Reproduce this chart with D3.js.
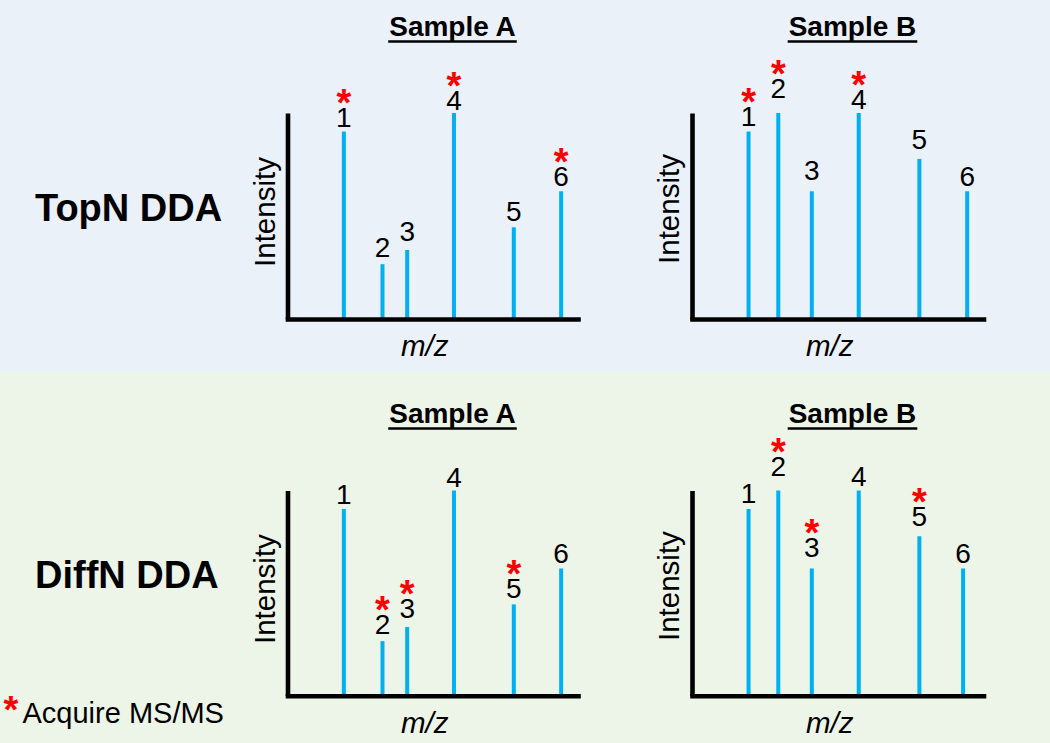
<!DOCTYPE html>
<html>
<head>
<meta charset="utf-8">
<script src="https://cdn.jsdelivr.net/npm/d3@7"></script>
<style>
  html, body { margin: 0; padding: 0; background: #ffffff; }
  svg { display: block; font-family: "Liberation Sans", Arial, sans-serif; }
</style>
</head>
<body>
<svg id="chart" width="1050" height="743"></svg>
<script>
// ---------------- data ----------------
const methods = ["TopN DDA", "DiffN DDA"];
const samples = ["Sample A", "Sample B"];
const peakLabels = ["1", "2", "3", "4", "5", "6"];

// m/z position of each peak (arbitrary units, 0-100 along the axis)
const mzSampleA = [19.4, 32.7, 41.2, 57.3, 77.9, 94.2];
const mzSampleB = [19.4, 29.6, 41.1, 57.2, 78.0, 94.4];
const mzSampleBDiffN = [19.4, 29.6, 41.1, 57.2, 78.0, 93.0];

// relative intensity of each peak
const intensityA = [0.91, 0.266, 0.335, 1.0, 0.445, 0.62];
const intensityB = [0.91, 1.0, 0.62, 1.0, 0.777, 0.62];

// peaks selected for MS/MS (peak numbers)
const topNSelectedA = [1, 4, 6];
const topNSelectedB = [1, 2, 4];
const diffNSelectedA = [2, 3, 5];
const diffNSelectedB = [2, 3, 5];

const xAxisLabel = "m/z";
const yAxisLabel = "Intensity";
const legendText = "Acquire MS/MS";

// ---------------- layout ----------------
const svg = d3.select("#chart");
const W = 1050, H = 743;
const bandSplit = 372;
const rowGeom = [
  { top: 113, base: 319, title: 36 },
  { top: 490.5, base: 695.7, title: 423 }
];
const colGeom = [
  { x0: 287.5, x1: 578, titleX: 452.5, intensDy: -4 },
  { x0: 692, x1: 983.5, titleX: 852.5, intensDy: -7 }
];
// gap between number label baseline and peak top
const labelGap = [
  [5, 7, 9, 3.5, 6, 5],
  [5.5, 15, 11, 4.5, 10, 5]
];
const barColor = "#00b0f0";
const starColor = "#ff0000";

// backgrounds
svg.append("rect").attr("x", 0).attr("y", 0).attr("width", W).attr("height", bandSplit).attr("fill", "#eaf1f9");
svg.append("rect").attr("x", 0).attr("y", bandSplit).attr("width", W).attr("height", H - bandSplit).attr("fill", "#edf4e8");

// row labels
const rowLabelY = [221, 587.5];
methods.forEach((m, r) => {
  svg.append("text").attr("x", 35).attr("y", rowLabelY[r])
    .attr("font-size", 38).attr("font-weight", "bold").attr("fill", "#000").text(m);
});

const panels = [
  { r: 0, c: 0, mz: mzSampleA, val: intensityA, sel: topNSelectedA },
  { r: 0, c: 1, mz: mzSampleB, val: intensityB, sel: topNSelectedB },
  { r: 1, c: 0, mz: mzSampleA, val: intensityA, sel: diffNSelectedA },
  { r: 1, c: 1, mz: mzSampleBDiffN, val: intensityB, sel: diffNSelectedB }
];

panels.forEach(p => {
  const rg = rowGeom[p.r], cg = colGeom[p.c];
  const x = d3.scaleLinear().domain([0, 100]).range([cg.x0, cg.x1]);
  const y = d3.scaleLinear().domain([0, 1]).range([rg.base, rg.top]);
  const g = svg.append("g");

  // title with underline
  const t = g.append("text").attr("x", cg.titleX).attr("y", rg.title)
    .attr("text-anchor", "middle").attr("font-size", 28).attr("font-weight", "bold")
    .attr("fill", "#000").text(samples[p.c]);
  const tw = t.node().getComputedTextLength();
  g.append("line").attr("x1", cg.titleX - tw / 2 - 1).attr("x2", cg.titleX + tw / 2 + 1)
    .attr("y1", rg.title + 5.5).attr("y2", rg.title + 5.5)
    .attr("stroke", "#000").attr("stroke-width", 2.6);

  // peaks
  const peaks = peakLabels.map((lab, i) => ({ lab, i, mz: p.mz[i], v: p.val[i], star: p.sel.includes(i + 1) }));
  g.selectAll("rect.peak").data(peaks).join("rect").attr("class", "peak")
    .attr("x", d => x(d.mz) - 2).attr("width", 4)
    .attr("y", d => y(d.v)).attr("height", d => y(0) - y(d.v))
    .attr("fill", barColor);

  // number labels (with red asterisk above when the peak is picked for MS/MS)
  const lbl = g.selectAll("text.num").data(peaks).join("text").attr("class", "num")
    .attr("text-anchor", "middle");
  lbl.filter(d => d.star).append("tspan")
    .attr("x", d => x(d.mz)).attr("y", d => y(d.v) - labelGap[p.c][d.i] - 11)
    .attr("font-size", 38).attr("font-weight", "bold").attr("fill", starColor).text("*");
  lbl.append("tspan")
    .attr("x", d => x(d.mz)).attr("y", d => y(d.v) - labelGap[p.c][d.i])
    .attr("font-size", 28).attr("fill", "#000").text(d => d.lab);

  // axes (no ticks)
  const xAxis = g.append("g").attr("transform", `translate(0,${rg.base})`)
    .call(d3.axisBottom(x).tickValues([]).tickSizeOuter(0));
  xAxis.select(".domain").attr("stroke", "#000").attr("stroke-width", 4.6).attr("stroke-linecap", "square");
  const yAxis = g.append("g").attr("transform", `translate(${cg.x0},0)`)
    .call(d3.axisLeft(y).tickValues([]).tickSizeOuter(0));
  yAxis.select(".domain").attr("stroke", "#000").attr("stroke-width", 4.6).attr("stroke-linecap", "butt");

  // axis labels
  g.append("text").attr("x", (cg.x0 + cg.x1) / 2 - 8).attr("y", rg.base + 37)
    .attr("text-anchor", "middle").attr("font-size", 29.5).attr("font-style", "italic")
    .attr("fill", "#000").text(xAxisLabel);
  const iy = (rg.top + rg.base) / 2 + cg.intensDy;
  g.append("text").attr("transform", `translate(${cg.x0 - 13},${iy}) rotate(-90)`)
    .attr("text-anchor", "middle").attr("font-size", 29.5).attr("fill", "#000").text(yAxisLabel);
});

// legend
svg.append("text").attr("x", 11).attr("y", 723).attr("text-anchor", "middle")
  .attr("font-size", 38).attr("font-weight", "bold").attr("fill", starColor).text("*");
svg.append("text").attr("x", 22.5).attr("y", 722.7).attr("font-size", 29).attr("fill", "#000").text(legendText);
</script>
</body>
</html>
